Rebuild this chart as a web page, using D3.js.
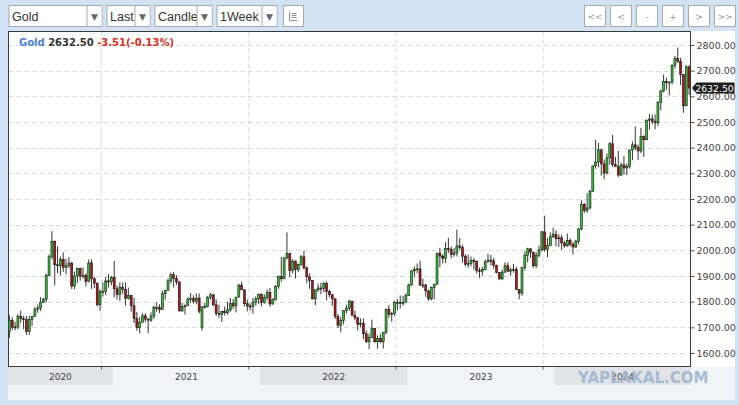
<!DOCTYPE html>
<html>
<head>
<meta charset="utf-8">
<script src="https://cdn.jsdelivr.net/npm/d3@7"></script>
<style>
  body { margin: 0; background: #d3e3f6; }
  svg { display: block; }
</style>
</head>
<body>
<div id="viz"></div>
<script>
// weekly gold candles, first week starts Mon 2020-04-20
const firstWeek = "2020-04-20";

const open = [
  // 2020
  1683,1727,1700,1702,1743,1735,1730,1684,1730,1743,1771,1775,1798,1810,1902,1975,2035,1944,1940,1964,1933,1940,1950,1861,1900,1930,1899,1902,1879,1951,1889,1872,1788,1839,1839,1881,1877,
  // 2021
  1895,1850,1828,1856,1848,1813,1824,1784,1734,1699,1720,1745,1732,1728,1744,1777,1777,1769,1831,1844,1881,1905,1891,1877,1764,1781,1784,1808,1812,1802,1814,1700,1780,1781,1817,1827,1788,1754,1750,1761,1757,1768,1793,1783,1818,1864,1846,1792,1783,1782,1798,1811,
  // 2022
  1829,1797,1817,1836,1791,1807,1859,1898,1889,1970,1988,1921,1958,1925,1945,1975,1932,1897,1883,1811,1846,1853,1851,1871,1840,1827,1811,1742,1708,1727,1766,1775,1802,1747,1737,1712,1716,1675,1644,1660,1695,1644,1657,1644,1681,1771,1751,1754,1797,1797,1793,1798,
  // 2023
  1824,1865,1920,1926,1928,1865,1865,1842,1811,1856,1868,1989,1978,1969,2007,2004,1983,1990,2017,2011,1977,1946,1948,1961,1958,1921,1919,1925,1955,1962,1959,1942,1914,1889,1915,1940,1919,1924,1925,1848,1833,1933,1981,2006,1993,1940,1981,2002,2072,2004,2019,2053,
  // 2024
  2063,2045,2049,2029,2018,2039,2024,2013,2035,2083,2179,2155,2165,2230,2329,2344,2392,2337,2301,2360,2415,2334,2327,2293,2333,2321,2326,2391,2411,2400,2387,2443,2431,2507,2512,2503,2497,2577,2621,2658,2653,2656,2721,2747,2737,2685,2563,2715
];
const high = [
  1747,1739,1722,1752,1765,1745,1745,1745,1745,1779,1789,1818,1815,1909,1984,2075,2039,2015,1976,1992,1966,1973,1955,1917,1933,1933,1933,1910,1965,1965,1898,1875,1848,1875,1896,1907,1900,
  1959,1864,1875,1875,1875,1855,1827,1815,1760,1740,1755,1755,1735,1758,1785,1798,1790,1843,1846,1890,1913,1916,1903,1879,1795,1790,1818,1834,1825,1832,1832,1782,1795,1823,1834,1830,1809,1788,1765,1781,1800,1814,1810,1818,1869,1877,1849,1808,1793,1815,1820,1831,
  1832,1829,1848,1853,1814,1865,1902,1974,1974,2070,1990,1966,1960,1949,1982,1998,1936,1910,1884,1849,1870,1874,1876,1879,1847,1830,1813,1752,1739,1767,1788,1807,1803,1765,1741,1735,1735,1688,1675,1730,1698,1668,1675,1682,1772,1787,1760,1804,1810,1824,1823,1833,
  1870,1922,1937,1949,1960,1890,1870,1847,1858,1869,1990,2010,1985,2032,2049,2015,2009,2081,2048,2022,1985,1983,1976,1970,1959,1933,1935,1964,1987,1982,1970,1944,1914,1924,1953,1953,1933,1947,1936,1849,1933,1997,2010,2009,1994,1993,2018,2076,2135,2048,2070,2088,
  2079,2062,2061,2037,2065,2047,2031,2041,2088,2195,2185,2223,2236,2330,2431,2418,2393,2353,2378,2422,2450,2364,2387,2342,2368,2338,2392,2424,2483,2412,2477,2448,2510,2531,2528,2529,2581,2625,2685,2673,2657,2725,2758,2790,2750,2686,2721,2721
];
const low = [
  1659,1690,1688,1692,1717,1693,1670,1671,1705,1743,1757,1764,1795,1797,1900,1965,1863,1911,1902,1916,1906,1930,1849,1849,1873,1882,1890,1860,1875,1850,1853,1781,1764,1820,1825,1855,1863,
  1817,1808,1802,1831,1785,1808,1761,1717,1687,1676,1719,1720,1677,1721,1733,1760,1756,1768,1808,1843,1870,1855,1866,1761,1760,1750,1784,1795,1794,1790,1753,1687,1773,1778,1808,1782,1745,1737,1721,1746,1750,1760,1772,1758,1816,1846,1781,1762,1765,1753,1785,1790,
  1782,1792,1806,1780,1788,1805,1850,1878,1889,1966,1895,1910,1890,1915,1940,1925,1872,1850,1808,1787,1838,1829,1836,1805,1816,1784,1732,1697,1681,1711,1754,1765,1745,1727,1688,1700,1654,1639,1615,1659,1640,1617,1638,1617,1673,1737,1722,1744,1765,1773,1784,1797,
  1823,1862,1896,1911,1861,1853,1819,1804,1805,1809,1868,1934,1949,1950,1990,1969,1975,1976,2002,1952,1937,1932,1938,1925,1910,1893,1902,1922,1952,1942,1928,1910,1885,1884,1913,1915,1901,1913,1846,1810,1823,1922,1953,1970,1932,1931,1973,1995,1995,1973,2017,2048,
  2016,2013,2002,2010,2013,2015,1984,2009,2024,2078,2146,2146,2160,2229,2318,2324,2291,2277,2295,2334,2325,2326,2286,2290,2295,2293,2318,2351,2390,2353,2379,2364,2430,2470,2491,2472,2485,2546,2615,2625,2603,2647,2708,2730,2644,2536,2563,2605
];
const close = [
  1727,1700,1702,1743,1735,1730,1684,1730,1743,1771,1775,1798,1810,1902,1975,2035,1944,1940,1964,1933,1940,1950,1861,1900,1930,1899,1902,1879,1951,1889,1872,1788,1839,1839,1881,1877,1895,
  1850,1828,1856,1848,1813,1824,1784,1734,1699,1720,1745,1732,1728,1744,1777,1777,1769,1831,1844,1881,1905,1891,1877,1764,1781,1784,1808,1812,1802,1814,1763,1780,1781,1817,1827,1788,1754,1750,1761,1757,1768,1793,1783,1818,1864,1846,1792,1783,1782,1798,1811,1829,
  1797,1817,1836,1791,1807,1859,1898,1889,1970,1988,1921,1958,1925,1945,1975,1932,1897,1883,1811,1846,1853,1851,1871,1840,1827,1811,1742,1708,1727,1766,1775,1802,1747,1737,1712,1716,1675,1644,1660,1695,1644,1657,1644,1681,1771,1751,1754,1797,1797,1793,1798,1824,
  1865,1920,1926,1928,1865,1865,1842,1811,1856,1868,1989,1978,1969,2007,2004,1983,1990,2017,2011,1977,1946,1948,1961,1958,1921,1919,1925,1955,1962,1959,1942,1914,1889,1915,1940,1919,1924,1925,1848,1833,1933,1981,2006,1993,1940,1981,2002,2072,2004,2019,2053,2063,
  2045,2049,2029,2018,2039,2024,2013,2035,2083,2179,2155,2165,2230,2329,2344,2392,2337,2301,2360,2415,2334,2327,2293,2333,2321,2326,2391,2411,2400,2387,2443,2431,2507,2512,2503,2497,2577,2621,2658,2653,2656,2721,2747,2737,2685,2563,2715,2632.5
];

const priceTicks = [1600,1700,1800,1900,2000,2100,2200,2300,2400,2500,2600,2700,2800];
const years = [2020, 2021, 2022, 2023, 2024];
const gridWeeks = ["2020-12-07", "2021-12-06", "2022-12-05", "2023-12-04"];
const lastPrice = 2632.5;
const legend = { name: "Gold", price: "2632.50", change: "-3.51(-0.13%)" };
const selects = [
  { text: "Gold", x: 9, w: 93 },
  { text: "Last", x: 107, w: 43 },
  { text: "Candle", x: 155, w: 57 },
  { text: "1Week", x: 217, w: 60 }
];
const navButtons = ["<<", "<", "-", "+", ">", ">>"];

const W = 739, H = 405;
const plot = { left: 8, right: 690.5, top: 31.5, bottom: 366.5 };
const fmt = d3.timeFormat("%Y-%m-%d");
const start = d3.timeParse("%Y-%m-%d")(firstWeek);
const weeks = close.map((d, i) => d3.timeMonday.offset(start, i));
const candles = weeks.map((w, i) => ({
  key: fmt(w), year: w.getFullYear(),
  o: open[i], h: high[i], l: low[i], c: close[i]
}));

const svg = d3.select("#viz").append("svg")
  .attr("width", W).attr("height", H)
  .style("font-family", "'DejaVu Sans', Verdana, sans-serif");

svg.append("rect").attr("width", W).attr("height", H).attr("fill", "#d3e3f6");

// ---- toolbar
const tb = svg.append("g");
selects.forEach((s) => {
  const g = tb.append("g").attr("transform", `translate(${s.x},5.5)`);
  g.append("rect").attr("width", s.w).attr("height", 21)
    .attr("fill", "#fff").attr("stroke", "#a8a8a8");
  g.append("text").attr("x", 3).attr("y", 15)
    .attr("font-family", "'Liberation Sans', Arial, sans-serif")
    .attr("font-size", 12.5).attr("fill", "#333").text(s.text);
  g.append("rect").attr("x", s.w - 14.5).attr("y", 0.5).attr("width", 14).attr("height", 20).attr("fill", "#fff");
  g.append("line").attr("x1", s.w - 15).attr("x2", s.w - 15)
    .attr("y1", 0).attr("y2", 21).attr("stroke", "#a8a8a8");
  g.append("text").attr("x", s.w - 7.5).attr("y", 14.5)
    .attr("text-anchor", "middle").attr("font-size", 9).attr("fill", "#666").text("▼");
});
const icon = tb.append("g").attr("transform", "translate(283.5,5.5)");
icon.append("rect").attr("width", 20).attr("height", 21).attr("fill", "#fff").attr("stroke", "#a8a8a8");
icon.append("path")
  .attr("d", "M6,6V15H14 M8,8H13 M8,10H13 M8,12H13")
  .attr("stroke", "#777").attr("stroke-width", 0.8).attr("fill", "none");

const nav = tb.selectAll("g.nav").data(navButtons).join("g")
  .attr("class", "nav")
  .attr("transform", (d, i) => `translate(${584.5 + i * 26},5.5)`);
nav.append("rect").attr("width", 21).attr("height", 21).attr("fill", "#fff").attr("stroke", "#a8a8a8");
nav.append("text").attr("x", 10.5).attr("y", 14).attr("text-anchor", "middle")
  .attr("font-size", 9).attr("fill", "#999").text((d) => d);

// ---- panel
svg.append("rect").attr("x", 8).attr("y", 31).attr("width", 727).attr("height", 369).attr("fill", "#fff");
svg.append("rect").attr("x", 8).attr("y", 367).attr("width", 727).attr("height", 33).attr("fill", "#f1f3f6");

const x = d3.scaleBand().domain(candles.map((d) => d.key))
  .range([plot.left, plot.right]).paddingInner(0.3).paddingOuter(0.15);
const stepStart = (k) => x(k) - x.step() * 0.15;
const y = d3.scaleLinear().domain([1600, 2800]).range([353, 45]);

// year bands
const bands = years.map((yr, i) => {
  const first = candles.find((d) => d.year === yr);
  const next = candles.find((d) => d.year === yr + 1);
  return { yr, x0: stepStart(first.key), x1: next ? stepStart(next.key) : plot.right, shade: i % 2 === 0 };
});
const bg = svg.append("g");
bg.selectAll("rect").data(bands).join("rect")
  .attr("x", (d) => d.x0).attr("y", 367).attr("width", (d) => d.x1 - d.x0).attr("height", 18)
  .attr("fill", (d) => (d.shade ? "#e1e3e6" : "#f1f3f6"));
bg.selectAll("text").data(bands).join("text")
  .attr("x", (d) => (d.x0 + d.x1) / 2).attr("y", 380).attr("text-anchor", "middle")
  .attr("font-size", 9).attr("fill", "#444").text((d) => d.yr);

// grid
const grid = svg.append("g").attr("stroke", "#dcdcdc").attr("stroke-dasharray", "5,3");
grid.selectAll("line.h").data(priceTicks).join("line").attr("class", "h")
  .attr("x1", plot.left).attr("x2", plot.right)
  .attr("y1", (d) => Math.round(y(d)) + 0.5).attr("y2", (d) => Math.round(y(d)) + 0.5);
grid.selectAll("line.v").data(gridWeeks).join("line").attr("class", "v")
  .attr("x1", (d) => stepStart(d)).attr("x2", (d) => stepStart(d))
  .attr("y1", plot.top).attr("y2", plot.bottom);
svg.append("g").selectAll("line").data(gridWeeks).join("line")
  .attr("x1", (d) => stepStart(d)).attr("x2", (d) => stepStart(d))
  .attr("y1", plot.bottom).attr("y2", plot.bottom + 3).attr("stroke", "#666");

// candles
const cg = svg.append("g");
cg.selectAll("line").data(candles).join("line")
  .attr("x1", (d) => x(d.key) + x.bandwidth() / 2).attr("x2", (d) => x(d.key) + x.bandwidth() / 2)
  .attr("y1", (d) => y(d.h)).attr("y2", (d) => y(d.l))
  .attr("stroke", "#1e1e1e").attr("stroke-width", 0.9);
cg.selectAll("rect").data(candles).join("rect")
  .attr("x", (d) => x(d.key)).attr("width", x.bandwidth())
  .attr("y", (d) => y(Math.max(d.o, d.c)))
  .attr("height", (d) => Math.max(1, Math.abs(y(d.o) - y(d.c))))
  .attr("fill", (d) => (d.c >= d.o ? "#2ec52e" : "#b01515"))
  .attr("stroke", "#1a1a1a").attr("stroke-width", 0.6);

// frame
svg.append("rect").attr("x", plot.left + 0.5).attr("y", plot.top)
  .attr("width", plot.right - plot.left - 0.5).attr("height", plot.bottom - plot.top)
  .attr("fill", "none").attr("stroke", "#3a3a3a");

// right axis
const ax = svg.append("g").attr("transform", `translate(${plot.right},0)`)
  .call(d3.axisRight(y).tickValues(priceTicks).tickSize(4).tickFormat(d3.format(".2f")));
ax.select(".domain").remove();
ax.selectAll("line").attr("stroke", "#555");
ax.selectAll("text").attr("x", 6).attr("font-size", 9.5).attr("fill", "#444")
  .attr("font-family", "'DejaVu Sans', Verdana, sans-serif");

// last price marker
const ly = y(lastPrice);
svg.append("path")
  .attr("d", `M${plot.right + 1.5},${ly} L${plot.right + 6},${ly - 5.5} H734.5 V${ly + 5.5} H${plot.right + 6} Z`)
  .attr("fill", "#1d1d1d");
svg.append("text").attr("x", 714.5).attr("y", ly + 3.6)
  .attr("text-anchor", "middle")
  .attr("font-size", 9.3).attr("fill", "#fff").text(d3.format(".2f")(lastPrice));

// legend
const lg = svg.append("text").attr("x", 19).attr("y", 46)
  .attr("font-size", 10).attr("font-weight", "bold");
lg.append("tspan").attr("fill", "#4a7fd6").text(legend.name + " ");
lg.append("tspan").attr("fill", "#333").text(legend.price + " ");
lg.append("tspan").attr("fill", "#d4301a").text(legend.change);

// watermark
svg.append("text").attr("x", 578).attr("y", 383)
  .attr("font-size", 15).attr("font-weight", "bold")
  .attr("fill", "#9fb6d0").attr("opacity", 0.9).text("YAPLAKAL.COM");
</script>
</body>
</html>
